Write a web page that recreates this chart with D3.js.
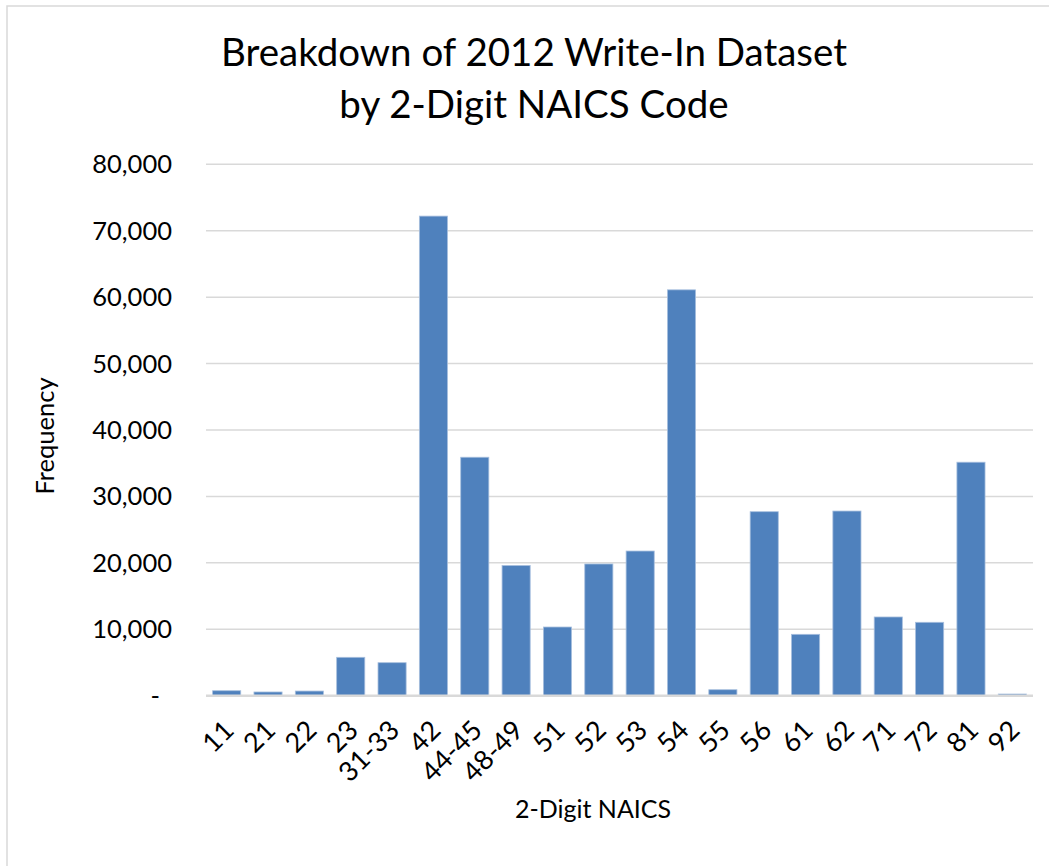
<!DOCTYPE html>
<html>
<head>
<meta charset="utf-8">
<script src="https://cdnjs.cloudflare.com/ajax/libs/d3/7.8.5/d3.min.js"></script>
<style>
  html, body { margin: 0; padding: 0; background: #fff; }
  svg { display: block; font-family: Lato, "Open Sans", sans-serif; }
</style>
</head>
<body>
<svg id="chart" width="1049" height="866"></svg>
<script>
const titleLines = ["Breakdown of 2012 Write-In Dataset", "by 2-Digit NAICS Code"];
const categories = ["11","21","22","23","31-33","42","44-45","48-49","51","52","53","54","55","56","61","62","71","72","81","92"];
const frequency = [750, 560, 700, 5780, 4970, 72200, 35900, 19600, 10340, 19830, 21780, 61100, 900, 27700, 9240, 27800, 11850, 11050, 35150, 250];
const yTicks = [0, 10000, 20000, 30000, 40000, 50000, 60000, 70000, 80000];
const xTitle = "2-Digit NAICS";
const yTitle = "Frequency";

const svg = d3.select("#chart");
const W = 1049, H = 866;
const plot = { left: 206, right: 1033, top: 164.3, bottom: 695.7 };

// outer chart border
svg.append("rect")
  .attr("x", 7).attr("y", 6)
  .attr("width", W + 10).attr("height", H + 10)
  .attr("fill", "#fff").attr("stroke", "#d9d9d9").attr("stroke-width", 1.5);

const x = d3.scaleBand().domain(categories).range([plot.left, plot.right]).paddingInner(0.32).paddingOuter(0.16);
const y = d3.scaleLinear().domain([0, 80000]).range([plot.bottom, plot.top]);

// gridlines
svg.append("g").selectAll("line").data(yTicks.filter(d => d > 0)).join("line")
  .attr("x1", plot.left).attr("x2", plot.right)
  .attr("y1", d => y(d)).attr("y2", d => y(d))
  .attr("stroke", "#d9d9d9").attr("stroke-width", 1.5);

// y axis labels
const fmt = d3.format(",");
svg.append("g").selectAll("text").data(yTicks).join("text")
  .attr("x", d => d === 0 ? 160 : 172)
  .attr("y", d => y(d))
  .attr("dy", "0.35em")
  .attr("text-anchor", "end")
  .attr("font-size", 25.5)
  .attr("fill", "#000")
  .text(d => d === 0 ? "-" : fmt(d));

// bars
svg.append("g").selectAll("rect").data(categories).join("rect")
  .attr("x", d => x(d))
  .attr("width", x.bandwidth())
  .attr("y", (d, i) => y(frequency[i]))
  .attr("height", (d, i) => plot.bottom - y(frequency[i]))
  .attr("fill", "#4f81bd")
  .attr("stroke", "#a7bfde")
  .attr("stroke-width", 0.8);

// x axis line
svg.append("line")
  .attr("x1", plot.left).attr("x2", plot.right)
  .attr("y1", plot.bottom).attr("y2", plot.bottom)
  .attr("stroke", "#d9d9d9").attr("stroke-width", 2.5);

// x tick labels rotated
svg.append("g").selectAll("text").data(categories).join("text")
  .attr("transform", d => `translate(${x(d) + x.bandwidth() / 2 + 9},732) rotate(-45)`)
  .attr("text-anchor", "end")
  .attr("font-size", 27)
  .attr("fill", "#000")
  .text(d => d);

// title
svg.append("g").selectAll("text").data(titleLines).join("text")
  .attr("x", 534)
  .attr("y", (d, i) => 66 + i * 52)
  .attr("text-anchor", "middle")
  .attr("font-size", 38.5)
  .attr("fill", "#000")
  .text(d => d);

// axis titles
svg.append("text")
  .attr("x", 593).attr("y", 818)
  .attr("text-anchor", "middle")
  .attr("font-size", 25)
  .attr("fill", "#000")
  .text(xTitle);

svg.append("text")
  .attr("transform", "translate(54,436) rotate(-90)")
  .attr("text-anchor", "middle")
  .attr("font-size", 25.5)
  .attr("fill", "#000")
  .text(yTitle);
</script>
</body>
</html>
